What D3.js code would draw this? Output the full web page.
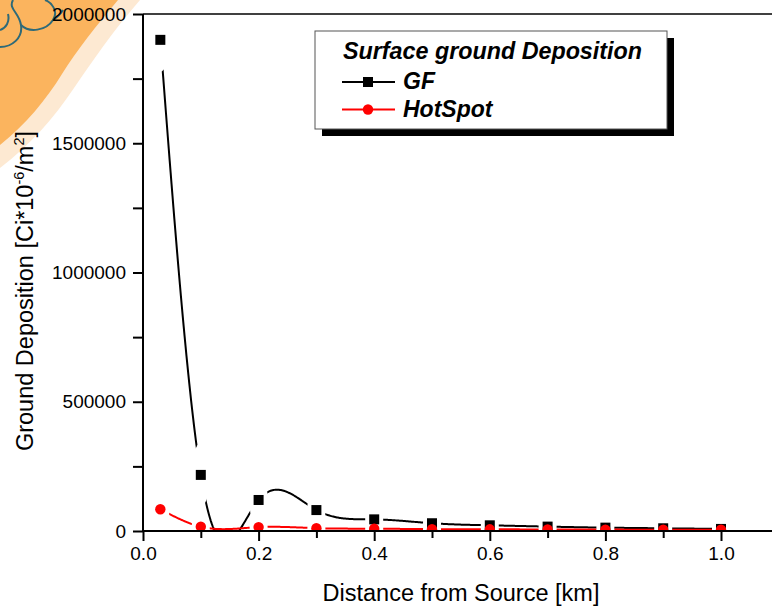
<!DOCTYPE html>
<html><head><meta charset="utf-8">
<script src="https://cdn.jsdelivr.net/npm/d3@7"></script>
<style>body{margin:0;background:#fff} svg{display:block} text{font-family:"Liberation Sans",Arial,sans-serif;fill:#000}</style>
</head><body><svg id="c" width="772" height="608"></svg>
<script>
const distances = [0.03, 0.1, 0.2, 0.3, 0.4, 0.5, 0.6, 0.7, 0.8, 0.9, 1.0];
const gfValues = [1900000, 217000, 120000, 81000, 45000, 30000, 22000, 17000, 13000, 10500, 8000];
const hotspotValues = [84000, 16500, 15000, 11000, 9000, 7000, 6500, 6000, 5500, 5000, 5000];
const seriesNames = ["GF", "HotSpot"];
const seriesColors = ["#000000", "#ff0000"];
const legendTitle = "Surface ground Deposition";
const xTicks = [0, 0.2, 0.4, 0.6, 0.8, 1.0];
const xMinorTicks = [0.1, 0.3, 0.5, 0.7, 0.9, 1.1];
const yTicks = [0, 500000, 1000000, 1500000, 2000000];
const yMinorTicks = [250000, 750000, 1250000, 1750000];
const xTitle = "Distance from Source [km]";

const svg = d3.select("#c");
const W = 772, H = 608;
const x = d3.scaleLinear().domain([0, 1.1]).range([143, 143 + 578 * 1.1]);
const y = d3.scaleLinear().domain([0, 2000000]).range([531, 14]);

// natural cubic spline y(x) in data space, evaluated for drawing
function splineSampler(xs, ys) {
  const n = xs.length, h = [], al = [], l = [1], mu = [0], z = [0], c = new Array(n).fill(0), b = [], d = [];
  for (let i = 0; i < n - 1; i++) h[i] = xs[i + 1] - xs[i];
  for (let i = 1; i < n - 1; i++) al[i] = 3 / h[i] * (ys[i + 1] - ys[i]) - 3 / h[i - 1] * (ys[i] - ys[i - 1]);
  for (let i = 1; i < n - 1; i++) {
    l[i] = 2 * (xs[i + 1] - xs[i - 1]) - h[i - 1] * mu[i - 1];
    mu[i] = h[i] / l[i];
    z[i] = (al[i] - h[i - 1] * z[i - 1]) / l[i];
  }
  for (let j = n - 2; j >= 0; j--) {
    c[j] = (j < n - 2 || true) ? z[j] - mu[j] * c[j + 1] : 0;
    b[j] = (ys[j + 1] - ys[j]) / h[j] - h[j] * (c[j + 1] + 2 * c[j]) / 3;
    d[j] = (c[j + 1] - c[j]) / (3 * h[j]);
  }
  c[0] = 0;
  return function (t) {
    let i = Math.min(n - 2, Math.max(0, d3.bisectRight(xs, t) - 1));
    const dx = t - xs[i];
    return ys[i] + b[i] * dx + c[i] * dx * dx + d[i] * dx * dx * dx;
  };
}

// watermark decoration (top-left)
const wm = svg.append("g");
wm.append("path").attr("d", "M0,0 L140,0 C112,32 92,62 74,88 C54,118 30,145 0,168 Z").attr("fill", "#fde9d2");
wm.append("path").attr("d", "M0,0 L118,0 C96,26 77,50 62,74 C46,100 26,124 0,145 Z").attr("fill", "#fbb45e");
const loops = ["M0,47 C12,47 23,38 21,25 C19,12 8,9 13,0",
  "M21,25 C29,33 46,31 53,20 C59,11 51,2 45,0",
  "M53,20 C56,18 60,15 63,10", "M0,30 C6,28 10,22 8,14"];
loops.forEach(d => wm.append("path").attr("d", d).attr("fill", "none").attr("stroke", "#2e6a78").attr("stroke-width", 2));

const defs = svg.append("defs");
defs.append("clipPath").attr("id", "plotclip").append("rect")
  .attr("x", x(0)).attr("y", y(2000000)).attr("width", x(1.1) - x(0)).attr("height", y(0) - y(2000000));

const data = [gfValues, hotspotValues].map(vals => distances.map((d, j) => ({x: d, y: vals[j]})));

data.forEach((pts, i) => {
  const m = defs.append("mask").attr("id", "gap" + i).attr("maskUnits", "userSpaceOnUse")
    .attr("x", 0).attr("y", 0).attr("width", W).attr("height", H);
  m.append("rect").attr("x", 0).attr("y", 0).attr("width", W).attr("height", H).attr("fill", "#fff");
  pts.forEach(p => m.append("ellipse").attr("cx", x(p.x)).attr("cy", y(p.y)).attr("rx", 9).attr("ry", 32).attr("fill", "#000"));
});

const line = d3.line().x(d => x(d.x)).y(d => y(d.y));

const plot = svg.append("g").attr("clip-path", "url(#plotclip)");
data.forEach((pts, i) => {
  const f = splineSampler(pts.map(p => p.x), pts.map(p => p.y));
  const x0 = pts[0].x, x1 = pts[pts.length - 1].x, N = 600;
  const curve = d3.range(N + 1).map(k => { const t = x0 + (x1 - x0) * k / N; return {x: t, y: f(t)}; });
  const g = plot.append("g");
  g.append("path").datum(curve).attr("d", line).attr("fill", "none")
    .attr("stroke", seriesColors[i]).attr("stroke-width", 2).attr("mask", "url(#gap" + i + ")");
  if (i === 0) {
    g.selectAll("rect").data(pts).join("rect")
      .attr("x", d => x(d.x) - 5).attr("y", d => y(d.y) - 5).attr("width", 10).attr("height", 10).attr("fill", "#000");
  } else {
    g.selectAll("circle").data(pts).join("circle")
      .attr("cx", d => x(d.x)).attr("cy", d => y(d.y)).attr("r", 5.2).attr("fill", "#ff0000");
  }
});

const axisG = svg.append("g");
axisG.append("line").attr("x1", x(0)).attr("x2", W).attr("y1", y(0)).attr("y2", y(0)).attr("stroke", "#000").attr("stroke-width", 2);
axisG.append("line").attr("x1", x(0)).attr("x2", W).attr("y1", y(2000000)).attr("y2", y(2000000)).attr("stroke", "#000").attr("stroke-width", 1.5);
axisG.append("line").attr("x1", x(0)).attr("x2", x(0)).attr("y1", y(2000000)).attr("y2", y(0) + 1).attr("stroke", "#000").attr("stroke-width", 2);

const xAxis = d3.axisBottom(x).tickValues(xTicks).tickFormat(d3.format(".1f")).tickSize(10).tickPadding(6);
const xg = svg.append("g").attr("transform", `translate(0,${y(0)})`).call(xAxis);
xg.select(".domain").remove();
xg.selectAll(".tick line").attr("stroke-width", 2);
xg.selectAll("text").style("font-size", "19px").attr("font-family", null);
const xm = svg.append("g").attr("transform", `translate(0,${y(0)})`).call(d3.axisBottom(x).tickValues(xMinorTicks).tickSize(7).tickFormat(""));
xm.select(".domain").remove();
xm.selectAll(".tick line").attr("stroke-width", 2);

const yAxis = d3.axisLeft(y).tickValues(yTicks).tickFormat(d3.format("d")).tickSize(10).tickPadding(7);
const yg = svg.append("g").attr("transform", `translate(${x(0)},0)`).call(yAxis);
yg.select(".domain").remove();
yg.selectAll(".tick line").attr("stroke-width", 2);
yg.selectAll("text").style("font-size", "19px").attr("font-family", null);
const ym = svg.append("g").attr("transform", `translate(${x(0)},0)`).call(d3.axisLeft(y).tickValues(yMinorTicks).tickSize(10).tickFormat(""));
ym.select(".domain").remove();
ym.selectAll(".tick line").attr("stroke-width", 2);

svg.append("text").attr("x", 461).attr("y", 601).attr("text-anchor", "middle").style("font-size", "23.5px").text(xTitle);
const yt = svg.append("text").attr("transform", "translate(33,291) rotate(-90)").attr("text-anchor", "middle").style("font-size", "23.5px");
yt.append("tspan").text("Ground Deposition [Ci*10");
yt.append("tspan").attr("dy", -9).style("font-size", "14.5px").text("-6");
yt.append("tspan").attr("dy", 9).text("/m");
yt.append("tspan").attr("dy", -9).style("font-size", "14.5px").text("2");
yt.append("tspan").attr("dy", 9).text("]");

const lg = svg.append("g");
lg.append("rect").attr("x", 322).attr("y", 38).attr("width", 352).attr("height", 98).attr("fill", "#000");
lg.append("rect").attr("x", 315).attr("y", 31).attr("width", 352).attr("height", 98).attr("fill", "#fff").attr("stroke", "#555").attr("stroke-width", 1);
lg.append("text").attr("x", 343).attr("y", 59).style("font-size", "23.3px").style("font-weight", "bold").style("font-style", "italic").text(legendTitle);
seriesNames.forEach((name, i) => {
  const ly = 82 + i * 27.5;
  lg.append("line").attr("x1", 342).attr("x2", 395).attr("y1", ly).attr("y2", ly).attr("stroke", seriesColors[i]).attr("stroke-width", 2);
  if (i === 0) lg.append("rect").attr("x", 363).attr("y", ly - 5).attr("width", 10).attr("height", 10).attr("fill", "#000");
  else lg.append("circle").attr("cx", 368).attr("cy", ly).attr("r", 5.2).attr("fill", "#ff0000");
  lg.append("text").attr("x", 403).attr("y", ly + 7).style("font-size", "23px").style("font-weight", "bold").style("font-style", "italic").text(name);
});
</script></body></html>
